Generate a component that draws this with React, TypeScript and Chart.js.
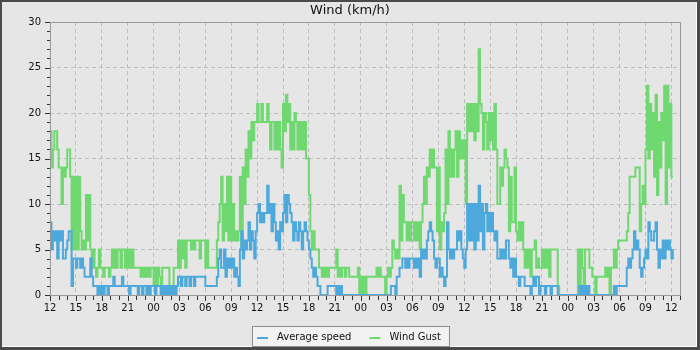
import React, { useEffect, useRef } from 'react';
import { Chart, registerables } from 'chart.js';

Chart.register(...registerables);

// ---- data (10-minute samples, starting at 12:00) ----
const samplesPerHour = 6;
const xTickLabels = ['12','15','18','21','00','03','06','09','12','15','18','21','00','03','06','09','12','15','18','21','00','03','06','09','12'];
const xTickStepHours = 3;
const xAxisMaxHours = 73;
const yAxisMax = 30;
const yMajorStep = 5;
const seriesLabels = ['Average speed', 'Wind Gust'];
const titleText = 'Wind (km/h)';

const avgSpeedDay1 = [
  8,5,7,6,7,4, 7,6,7,4,4,5,
  6,7,7,1,4,4, 3,4,4,3,4,3,
  2,2,2,2,4,2, 1,1,1,0,1,0,
  1,0,1,1,0,1, 1,1,2,1,1,1,
  1,1,2,1,1,1, 1,0,1,1,1,1,
  1,0,1,1,0,1, 1,0,1,0,1,1,
  1,0,1,1,1,0, 1,0,1,0,1,0,
  1,0,1,0,1,2, 2,1,2,2,1,2,
  2,1,2,2,1,2, 2,2,2,2,2,2,
  1,1,1,1,1,1, 1,1,2,4,5,3,
  3,5,2,4,3,4, 3,4,2,3,2,1,
  5,7,4,6,5,6, 8,5,7,6,4,7,
];
const avgSpeedDay2 = [
  9,10,8,9,8,9, 9,12,9,10,7,10,
  8,6,7,5,8,7, 9,11,8,11,10,9,
  8,6,8,7,6,8, 7,5,7,8,7,6,
  5,4,3,2,3,2, 1,1,0,0,0,0,
  0,1,1,1,1,1, 1,0,1,0,1,0,
  0,0,0,0,0,0, 0,0,0,0,0,0,
  0,0,0,0,0,0, 0,0,0,0,0,0,
  0,0,0,0,0,0, 0,0,0,1,1,1,
  0,2,2,3,3,4, 4,3,4,3,4,4,
  4,3,4,3,4,2, 5,4,5,4,6,7,
  8,7,6,4,3,4, 4,2,3,2,1,2,
  8,5,4,5,4,5, 5,7,6,7,5,4,
];
const avgSpeedDay3 = [
  3,5,10,6,10,6, 10,5,10,6,12,7,
  10,5,9,10,7,9, 7,9,7,6,7,4,
  4,5,4,5,4,6, 6,4,3,4,2,4,
  2,2,1,2,2,2, 1,1,1,1,0,1,
  2,1,2,2,0,1, 1,1,0,1,1,1,
  0,1,1,1,1,0, 0,0,0,0,0,0,
  0,0,0,0,0,0, 0,0,1,0,1,0,
  1,0,1,0,0,0, 0,0,0,0,0,0,
  0,0,0,0,0,0, 0,0,1,0,1,1,
  1,1,1,1,1,3, 4,3,4,5,7,5,
  6,5,3,2,3,4, 5,4,8,7,6,6,
  7,8,5,3,5,4, 6,4,6,5,6,5,
  4,5,
];

const windGustDay1 = [
  18,14,16,18,18,16, 14,14,10,14,13,14,
  16,16,13,5,13,5, 13,5,13,7,5,6,
  5,11,6,11,5,3, 5,3,2,3,5,3,
  3,2,3,3,3,2, 3,5,3,5,3,5,
  5,3,5,5,3,5, 3,5,3,5,3,3,
  3,3,3,2,3,2, 3,2,3,2,3,3,
  1,3,1,3,2,0, 3,3,3,3,3,1,
  0,1,3,3,3,6, 3,6,4,6,3,6,
  6,6,5,6,5,6, 6,6,4,6,6,6,
  3,6,3,3,3,3, 3,3,6,8,10,13,
  6,10,7,13,6,13, 6,10,6,7,6,7,
  13,5,14,10,16,13, 18,15,19,17,19,19,
];
const windGustDay2 = [
  21,19,19,21,19,19, 19,21,19,16,19,19,
  16,19,16,19,16,14, 21,18,22,19,21,16,
  19,16,20,19,16,19, 16,19,16,19,15,15,
  11,7,5,7,5,5, 5,3,3,2,3,2,
  3,2,3,3,3,3, 3,5,2,3,2,3,
  3,2,3,3,2,2, 2,2,2,2,3,0,
  2,0,2,0,2,2, 2,2,2,2,2,3,
  2,3,2,2,2,0, 2,3,2,3,6,5,
  4,5,4,12,6,11, 8,8,6,8,6,8,
  8,6,8,6,8,5, 8,10,13,10,14,13,
  16,14,16,14,14,7, 14,5,8,7,9,16,
  10,18,13,16,13,16, 18,13,18,15,17,15,
];
const windGustDay3 = [
  17,10,21,18,21,18, 21,17,21,18,27,21,
  20,16,20,19,16,20, 17,20,16,21,16,10,
  10,14,12,14,16,15, 14,7,13,8,8,14,
  7,6,8,6,8,5, 3,5,3,5,2,5,
  5,6,3,4,3,3, 5,3,5,3,5,2,
  5,5,5,5,5,1, 0,0,0,0,0,0,
  0,0,0,0,0,0, 0,5,1,5,3,1,
  5,5,5,3,3,2, 2,0,2,2,2,2,
  2,2,3,2,3,0, 3,3,5,3,5,6,
  6,6,6,6,6,7, 9,13,13,13,13,14,
  14,14,7,10,12,10, 16,23,15,21,16,20,
  13,22,11,19,14,20, 17,23,10,23,14,21,
  13,13,
];

const avgSpeed = [...avgSpeedDay1, ...avgSpeedDay2, ...avgSpeedDay3];
const windGust = [...windGustDay1, ...windGustDay2, ...windGustDay3];

const toPoints = (vals: number[]) => vals.map((v, i) => ({ x: i / samplesPerHour, y: v }));

const FONT = '"DejaVu Sans", sans-serif';
const BLUE = '#4da9db';
const GREEN = '#70d870';

const framePlugin = {
  id: 'frameAndDecor',
  beforeDraw(chart: any) {
    const { ctx, width, height } = chart;
    ctx.save();
    ctx.fillStyle = '#4a4a4a';
    ctx.fillRect(0, 0, width, height);
    ctx.fillStyle = '#ffffff';
    ctx.fillRect(2, 2, width - 5, height - 5);
    ctx.fillStyle = '#e6e6e6';
    ctx.fillRect(2, 2, width - 6, height - 6);
    ctx.restore();
  },
  afterDraw(chart: any) {
    const { ctx, chartArea, width } = chart;
    const xs = chart.scales.x;
    const ys = chart.scales.y;
    ctx.save();
    // plot border
    ctx.strokeStyle = '#999999';
    ctx.lineWidth = 1;
    ctx.setLineDash([]);
    ctx.strokeRect(chartArea.left + 0.5, chartArea.top + 0.5, chartArea.right - chartArea.left, chartArea.bottom - chartArea.top);
    // tick marks
    ctx.strokeStyle = '#333333';
    ctx.beginPath();
    for (let h = 0; h <= xAxisMaxHours; h++) {
      const px = Math.round(xs.getPixelForValue(h)) + 0.5;
      const len = h % xTickStepHours === 0 ? 5 : 4;
      ctx.moveTo(px, chartArea.bottom + 1);
      ctx.lineTo(px, chartArea.bottom + 1 + len);
    }
    for (let v = 0; v <= yAxisMax; v++) {
      const py = Math.round(ys.getPixelForValue(v)) + 0.5;
      const len = v % yMajorStep === 0 ? 5 : 3;
      ctx.moveTo(chartArea.left, py);
      ctx.lineTo(chartArea.left - len, py);
    }
    ctx.stroke();
    // title
    ctx.fillStyle = '#111111';
    ctx.font = `13px ${FONT}`;
    ctx.textAlign = 'center';
    ctx.textBaseline = 'middle';
    ctx.fillText(titleText, width / 2, 11);
    // legend
    ctx.font = `10px ${FONT}`;
    const items = chart.data.datasets.map((d: any) => ({ label: d.label, color: d.borderColor, w: ctx.measureText(d.label).width }));
    const padL = 5, lineLen = 11, lineGap = 9, itemGap = 18, padR = 8;
    let total = padL + padR + itemGap * (items.length - 1);
    items.forEach((it: any) => { total += lineLen + lineGap + it.w; });
    const boxX = Math.round((width - total) / 2);
    const boxY = 327;
    const boxH = 20;
    ctx.fillStyle = '#f2f2f2';
    ctx.fillRect(boxX, boxY, total, boxH);
    ctx.strokeStyle = '#8c8c8c';
    ctx.strokeRect(boxX + 0.5, boxY - 0.5, total, boxH);
    let cx = boxX + padL;
    const cy = boxY + 10;
    ctx.textAlign = 'left';
    items.forEach((it: any) => {
      ctx.strokeStyle = it.color;
      ctx.lineWidth = 2;
      ctx.beginPath();
      ctx.moveTo(cx, cy + 1);
      ctx.lineTo(cx + lineLen, cy + 1);
      ctx.stroke();
      cx += lineLen + lineGap;
      ctx.fillStyle = '#111111';
      ctx.fillText(it.label, cx, cy);
      cx += it.w + itemGap;
    });
    ctx.restore();
  },
};

export default function App() {
  const ref = useRef<HTMLCanvasElement>(null);
  useEffect(() => {
    const canvas = ref.current;
    if (!canvas) return;
    const chart = new Chart(canvas, {
      type: 'line',
      data: {
        datasets: [
          {
            label: seriesLabels[0],
            data: toPoints(avgSpeed),
            borderColor: BLUE,
            backgroundColor: BLUE,
            borderWidth: 2,
            pointRadius: 0,
            stepped: true,
            fill: false,
          },
          {
            label: seriesLabels[1],
            data: toPoints(windGust),
            borderColor: GREEN,
            backgroundColor: GREEN,
            borderWidth: 2,
            pointRadius: 0,
            stepped: true,
            fill: false,
          },
        ],
      },
      options: {
        animation: false,
        responsive: false,
        devicePixelRatio: 1,
        layout: { padding: { top: 22, right: 20, left: 0, bottom: 0 } },
        plugins: {
          legend: { display: false },
          title: { display: false },
          tooltip: { enabled: false },
        },
        scales: {
          x: {
            type: 'linear',
            min: 0,
            max: xAxisMaxHours,
            afterBuildTicks: (s: any) => {
              s.ticks = xTickLabels.map((_, i) => ({ value: i * xTickStepHours }));
            },
            afterFit: (s: any) => { s.height = 55; },
            ticks: {
              autoSkip: false,
              maxRotation: 0,
              padding: 7,
              color: '#111111',
              font: { family: FONT, size: 10 },
              callback: (_v: any, i: number) => xTickLabels[i],
            },
            grid: { color: '#bdbdbd', lineWidth: 1, drawTicks: false },
            border: { display: false, dash: [4, 3] },
          },
          y: {
            min: 0,
            max: yAxisMax,
            afterFit: (s: any) => { s.width = 50; },
            ticks: {
              stepSize: yMajorStep,
              padding: 9,
              color: '#111111',
              font: { family: FONT, size: 10 },
            },
            grid: { color: '#bdbdbd', lineWidth: 1, drawTicks: false },
            border: { display: false, dash: [4, 3] },
          },
        },
      },
      plugins: [framePlugin],
    } as any);
    return () => chart.destroy();
  }, []);
  return (
    <div style={{ position: 'fixed', left: 0, top: 0, width: 700, height: 350 }}>
      <canvas ref={ref} width={700} height={350} style={{ display: 'block', width: 700, height: 350 }} />
    </div>
  );
}
